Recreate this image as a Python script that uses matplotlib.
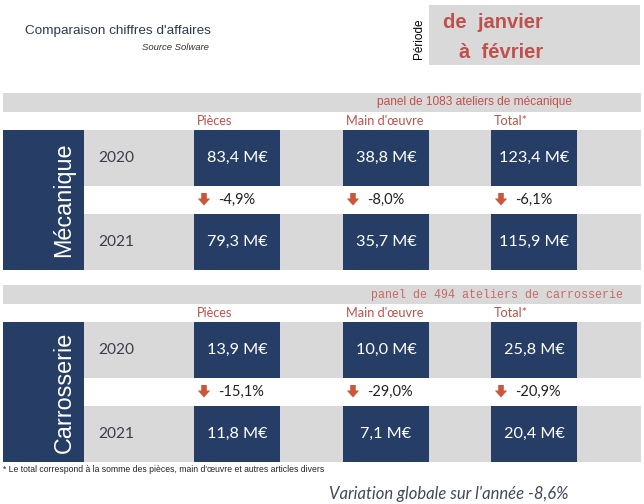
import matplotlib
matplotlib.use("Agg")
import matplotlib.pyplot as plt
from matplotlib.patches import Rectangle, Polygon

# ---- data ----
sections = ["Mécanique", "Carrosserie"]
panel_labels = ["panel de 1083 ateliers de mécanique", "panel de 494 ateliers de carrosserie"]
years = ["2020", "2021"]
categories = ["Pièces", "Main d'œuvre", "Total*"]
values_2020 = [[83.4, 38.8, 123.4], [13.9, 10.0, 25.8]]
values_2021 = [[79.3, 35.7, 115.9], [11.8, 7.1, 20.4]]
pct_change = [[-4.9, -8.0, -6.1], [-15.1, -29.0, -20.9]]
title = "Comparaison chiffres d'affaires"
source = "Source Solware"
period_lines = ["de  janvier", "à  février"]
footnote = "* Le total correspond à la somme des pièces, main d'œuvre et autres articles divers"
global_var = -8.6

# ---- styles ----
NAVY = "#263e66"
GRAY = "#d9d9d9"
RED = "#c0504d"
ARROW = "#c9573a"
YEARC = "#3a3d4d"

def fr(v, nd=1):
    return f"{v:.{nd}f}".replace(".", ",")

fig = plt.figure(figsize=(6.44, 5.04), dpi=100)
ax = fig.add_axes([0, 0, 1, 1])
ax.set_xlim(0, 644)
ax.set_ylim(504, 0)
ax.axis("off")

# title block
ax.text(25, 31, title, fontsize=9.7, family="Liberation Sans", color="#2e3850", va="center", ha="left")
ax.text(209, 47, source, fontsize=6.8, family="Liberation Sans", style="italic", color="#333333", va="center", ha="right")

# period block
ax.add_patch(Rectangle((429, 5), 211, 60, facecolor=GRAY, edgecolor="none"))
ax.text(419, 39, "Période", rotation=90, fontsize=8.5, family="Liberation Sans", color="black", va="center", ha="center")
ax.text(443, 22, period_lines[0], fontsize=14.5, family="Liberation Sans", weight="bold", color=RED, va="center", ha="left")
ax.text(459, 52, period_lines[1], fontsize=14.5, family="Liberation Sans", weight="bold", color=RED, va="center", ha="left")

box_lefts = [194, 343, 491]
box_w = 86
row_h = 56
gap = 28
sec_tops = [93, 285]

for s, sec in enumerate(sections):
    top = sec_tops[s]
    # header bar
    ax.add_patch(Rectangle((3, top), 638, 19, facecolor=GRAY, edgecolor="none"))
    if s == 0:
        ax.text(475, top + 9.5, panel_labels[s], fontsize=8.6, family="Liberation Sans", color=RED, va="center", ha="center")
    else:
        ax.text(497, top + 10, panel_labels[s], fontsize=8.4, family="Liberation Mono", color="#c86a66", va="center", ha="center")
    # column headers
    for c, cat in enumerate(categories):
        ax.text(box_lefts[c] + 3, top + 28, cat, fontsize=9.2, family="Lato", color=RED, va="center", ha="left")
    r1 = top + 37
    r2 = r1 + row_h + gap
    # gray rows
    for ry in (r1, r2):
        ax.add_patch(Rectangle((3, ry), 638, row_h, facecolor=GRAY, edgecolor="none"))
    # section label box
    ax.add_patch(Rectangle((3, r1), 81, r2 + row_h - r1, facecolor=NAVY, edgecolor="none"))
    ax.text(64, (r1 + r2 + row_h) / 2, sec, rotation=90, fontsize=16.8, family="Liberation Sans",
            color="white", va="center", ha="center")
    # years
    for ry, yr in zip((r1, r2), years):
        ax.text(98, ry + row_h / 2, yr, fontsize=11.2, family="Lato", color=YEARC, va="center", ha="left")
    # value boxes
    for c in range(len(categories)):
        for ry, vals in ((r1, values_2020), (r2, values_2021)):
            ax.add_patch(Rectangle((box_lefts[c], ry), box_w, row_h, facecolor=NAVY, edgecolor="none"))
            ax.text(box_lefts[c] + box_w / 2, ry + row_h / 2, f"{fr(vals[s][c])} M€", fontsize=11.7,
                    family="Lato", color="white", va="center", ha="center")
        # arrow + pct
        cy = r1 + row_h + gap / 2
        ax_c = box_lefts[c] + 10
        pts = [(ax_c - 2.8, cy - 7), (ax_c + 2.8, cy - 7), (ax_c + 2.8, cy - 1.5), (ax_c + 6.2, cy - 1.5),
               (ax_c, cy + 5.5), (ax_c - 6.2, cy - 1.5), (ax_c - 2.8, cy - 1.5)]
        ax.add_patch(Polygon(pts, closed=True, facecolor=ARROW, edgecolor="none"))
        ax.text(box_lefts[c] + 24, cy, f"{fr(pct_change[s][c])}%", fontsize=10.5, family="Lato",
                color="#222222", va="center", ha="left")

ax.text(3, 470, footnote, fontsize=6.2, family="Liberation Sans", color="#222222", va="center", ha="left")
ax.text(329, 494, f"Variation globale sur l'année {fr(global_var)}%", fontsize=12, family="Lato",
        style="italic", color="#404a5a", va="center", ha="left")

fig.savefig("out.png", dpi=100)
